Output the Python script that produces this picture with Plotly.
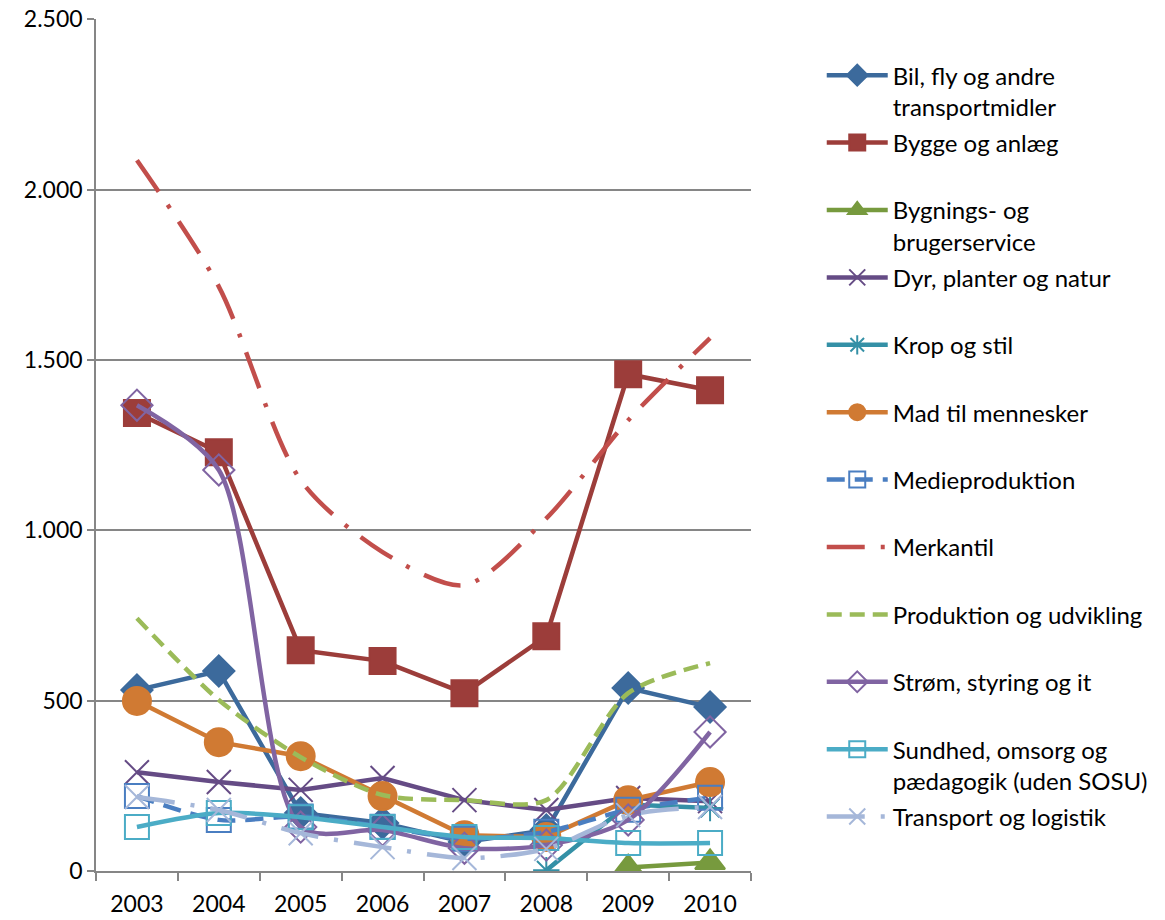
import plotly.graph_objects as go

years = ["2003", "2004", "2005", "2006", "2007", "2008", "2009", "2010"]

bil = [531, 587, 170, 141, 85, 120, 537, 481]
bygge = [1344, 1229, 648, 616, 522, 689, 1458, 1411]
bygnings = [None, None, None, None, None, None, 10, 25]
dyr = [290, 261, 238, 273, 208, 179, 214, 205]
krop = [None, None, None, None, None, 2, 195, 185]
mad = [499, 378, 337, 220, 105, 100, 208, 261]
medie = [220, 150, 160, 130, 95, 115, 180, 215]
merkantil = [2086, 1715, 1147, 936, 839, 1035, 1323, 1564]
produktion = [742, 502, 334, 223, 208, 208, 522, 610]
strom = [1367, 1177, 129, 120, 67, 76, 150, 408]
sundhed = [129, 170, 158, 129, 100, 97, 82, 82]
transport = [217, 179, 111, 70, 38, 65, 164, 188]
y_ticks = [0, 500, 1000, 1500, 2000, 2500]

names = [
    "Bil, fly og andre<br>transportmidler",
    "Bygge og anlæg<br> ",
    "Bygnings- og<br>brugerservice",
    "Dyr, planter og natur<br> ",
    "Krop og stil<br> ",
    "Mad til mennesker<br> ",
    "Medieproduktion<br> ",
    "Merkantil<br> ",
    "Produktion og udvikling<br> ",
    "Strøm, styring og it<br> ",
    "Sundhed, omsorg og<br>pædagogik (uden SOSU)",
    "Transport og logistik<br> ",
]
series = [bil, bygge, bygnings, dyr, krop, mad, medie, merkantil, produktion, strom, sundhed, transport]

styles = [
    dict(color="#3C6A9C", dash="solid", shape="linear", symbol="diamond", size=24, mode="lines+markers"),
    dict(color="#9C3D3A", dash="solid", shape="linear", symbol="square", size=26, mode="lines+markers"),
    dict(color="#779A3E", dash="solid", shape="linear", symbol="triangle-up", size=26, mode="lines+markers"),
    dict(color="#654B85", dash="solid", shape="linear", symbol="x-thin-open", size=24, mode="lines+markers"),
    dict(color="#3490A6", dash="solid", shape="linear", symbol="asterisk-open", size=22, mode="lines+markers"),
    dict(color="#D07A33", dash="solid", shape="linear", symbol="circle", size=28, mode="lines+markers"),
    dict(color="#4A7EC1", dash="18px,10px", shape="spline", symbol="square-open", size=24, mode="lines+markers"),
    dict(color="#C24E4B", dash="38px,16px,4px,16px", shape="spline", symbol=None, size=0, mode="lines"),
    dict(color="#9BBB59", dash="15px,8px", shape="spline", symbol=None, size=0, mode="lines"),
    dict(color="#8064A2", dash="solid", shape="spline", symbol="diamond-open", size=24, mode="lines+markers"),
    dict(color="#4BACC6", dash="solid", shape="spline", symbol="square-open", size=24, mode="lines+markers"),
    dict(color="#A5B7D9", dash="38px,16px,4px,16px", shape="spline", symbol="x-thin-open", size=24, mode="lines+markers"),
]

fig = go.Figure()
for i, (nm, vals, st) in enumerate(zip(names, series, styles)):
    marker = None
    if st["symbol"]:
        marker = dict(symbol=st["symbol"], size=st["size"], color=st["color"],
                      line=dict(width=2, color=st["color"]))
    fig.add_trace(go.Scatter(
        x=years, y=vals, name=nm, mode=st["mode"],
        line=dict(color=st["color"], width=4.5, dash=st["dash"], shape=st["shape"], smoothing=0.8),
        marker=marker, connectgaps=False, legendgroup=f"g{i}",
    ))

fig.update_layout(
    width=1165, height=920,
    margin=dict(l=96, r=414, t=19, b=49, autoexpand=False),
    paper_bgcolor="white", plot_bgcolor="white",
    separators=",.",
    font=dict(family="Lato, Carlito, sans-serif", size=24, color="#000000"),
    showlegend=True,
    legend=dict(
        x=1.108, xanchor="left", y=0.96, yanchor="top",
        valign="top", itemsizing="trace", itemwidth=61, tracegroupgap=2,
        font=dict(size=24), bgcolor="rgba(0,0,0,0)",
    ),
)
fig.update_xaxes(
    type="category", range=[-0.5, 7.5], autorange=False,
    showgrid=False, showline=True, linecolor="#868686", linewidth=1.5,
    ticks="outside", tickson="boundaries", ticklen=8, tickcolor="#868686", tickwidth=1.5,
    tickfont=dict(size=23), automargin=False, ticklabelstandoff=12,
)
fig.update_yaxes(
    range=[0, 2500.5], autorange=False, tickmode="array", tickvals=y_ticks,
    tickformat=",d", showgrid=True, gridcolor="#868686", gridwidth=1.5,
    showline=True, linecolor="#868686", linewidth=1.5, zeroline=False,
    ticks="outside", ticklen=7, tickcolor="#868686", tickwidth=1.5,
    tickfont=dict(size=23), automargin=False, ticklabeloverflow="allow",
)

fig.write_html("out.html", config={"displayModeBar": False},
               post_script="document.body.style.margin='0px';")
